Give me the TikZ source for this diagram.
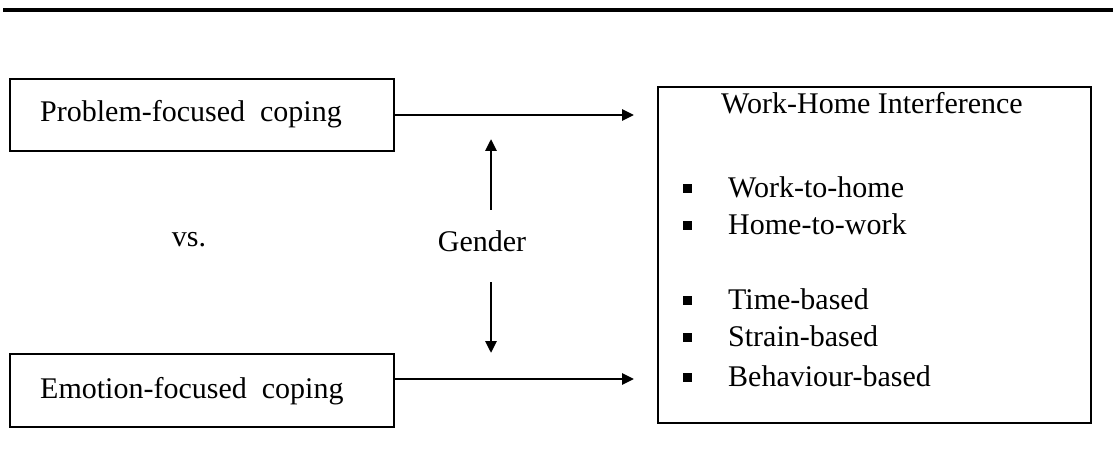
\documentclass[tikz,border=0pt]{standalone}
\usepackage{fontspec}
\setmainfont{Liberation Serif}
\usetikzlibrary{arrows.meta}
\begin{document}
\begin{tikzpicture}[x=1pt,y=-1pt,
  every node/.style={font=\fontsize{30}{36}\selectfont},
  frame/.style={draw,line width=1.8pt,inner sep=0pt},
  txt/.style={anchor=base west,inner sep=0pt},
  bul/.style={fill=black,minimum size=9pt,inner sep=0pt},
  link/.style={line width=2.8pt,-{Triangle[length=12pt,width=11pt]}}]
\useasboundingbox (0,0) rectangle (1113,470);
% heading rule
\draw[line width=4pt] (3,10.5) -- (1113,10.5);
% left boxes
\node[frame,minimum width=384pt,minimum height=72pt] (p) at (202,115) {};
\node[txt] (pt) at (40,122) {Problem-focused\ \ coping};
\node[frame,minimum width=384pt,minimum height=73pt] (e) at (202,390.5) {};
\node[txt] (et) at (40,398) {Emotion-focused\ \ coping};
\node[anchor=base,inner sep=0pt] (vs) at (189,247) {vs.};
% outcome box
\node[frame,minimum width=433pt,minimum height=336pt] (w) at (874.5,255) {};
\node[anchor=base,inner sep=0pt] (wt) at (872,114) {Work-Home Interference};
\foreach \n/\y/\t in {a/198/Work-to-home, b/235/Home-to-work, c/309/Time-based, d/346/Strain-based, f/386/Behaviour-based}{
  \node[bul] (b\n) at (687,\y-9) {};
  \node[txt] (t\n) at (728,\y) {\t};
}
% moderator
\node[anchor=base,inner sep=0pt] (g) at (482,252) {Gender};
\coordinate (gu0) at (491,210);
\coordinate (gu1) at (491,139);
\coordinate (gd0) at (491,282);
\coordinate (gd1) at (491,353);
\draw[link] (gu0) -- (gu1);
\draw[link] (gd0) -- (gd1);
% effects
\coordinate (pe) at (634,115);
\coordinate (es) at (394,379);
\coordinate (ee) at (634,379);
\draw[link] (p.east) -- (pe);
\draw[link] (es) -- (ee);
\end{tikzpicture}
\end{document}
